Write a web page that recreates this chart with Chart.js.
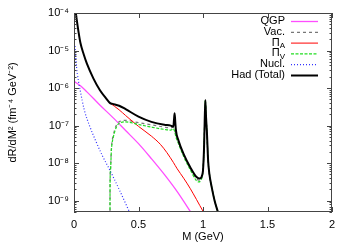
<!DOCTYPE html>
<html>
<head>
<meta charset="utf-8">
<script src="https://cdn.jsdelivr.net/npm/chart.js@4/dist/chart.umd.min.js"></script>
<style>
  body { margin: 0; background: #fff; }
  #wrap { width: 350px; height: 245px; }
</style>
</head>
<body>
<div id="wrap"><canvas id="rate" width="350" height="245"></canvas></div>
<script>
// values, M in GeV, rate in fm^-4 GeV^-2
const qgpM = [0.0, 0.05, 0.1, 0.2, 0.3, 0.4, 0.5, 0.6, 0.7, 0.8, 0.9, 0.95];
const qgpR = [1.51e-6, 1.15e-6, 7.94e-7, 3.55e-7, 1.66e-7, 7.41e-8, 3.31e-8, 1.32e-8, 5.01e-9, 1.74e-9, 5.25e-10, 2.82e-10];

const vacM = [0.279, 0.2795, 0.283, 0.29, 0.305, 0.33, 0.36, 0.4, 0.5, 0.6, 0.7, 0.75, 0.77, 0.78, 0.79, 0.81, 0.85, 0.9, 0.95, 0.97, 0.99, 1.0, 1.008, 1.013, 1.018, 1.024, 1.03, 1.04, 1.05, 1.067, 1.09, 1.12];
const vacR = [2.5e-10, 2.51e-9, 7.08e-9, 2.51e-8, 5.62e-8, 1.05e-7, 1.32e-7, 1.38e-7, 1.20e-7, 1.05e-7, 9.12e-8, 8.71e-8, 9.12e-8, 7.94e-8, 5.62e-8, 3.55e-8, 1.66e-8, 7.41e-9, 3.80e-9, 3.55e-9, 4.17e-9, 6.46e-9, 2.51e-8, 1.26e-7, 4.79e-7, 1.58e-7, 7.08e-8, 1.12e-8, 5.01e-9, 2.34e-9, 1.0e-9, 4.47e-10];

const paM = [0.28, 0.35, 0.4, 0.5, 0.6, 0.67, 0.72, 0.77, 0.8, 0.85, 0.9, 0.95, 1.0, 1.03];
const paR = [3.98e-7, 2.63e-7, 1.86e-7, 9.55e-8, 5.25e-8, 3.16e-8, 1.91e-8, 1.05e-8, 7.08e-9, 3.98e-9, 2.14e-9, 1.07e-9, 5.25e-10, 3.55e-10];

const pvM = [0.279, 0.2795, 0.283, 0.29, 0.305, 0.33, 0.36, 0.4, 0.5, 0.6, 0.7, 0.75, 0.77, 0.78, 0.79, 0.81, 0.85, 0.9, 0.95, 0.965, 0.985, 1.0, 1.008, 1.013, 1.018, 1.024, 1.03, 1.04, 1.05, 1.067, 1.09, 1.12];
const pvR = [2.5e-10, 2.34e-9, 6.46e-9, 2.24e-8, 4.90e-8, 9.33e-8, 1.20e-7, 1.26e-7, 1.07e-7, 9.12e-8, 7.94e-8, 7.59e-8, 8.32e-8, 7.08e-8, 5.01e-8, 3.31e-8, 1.51e-8, 6.76e-9, 3.39e-9, 3.16e-9, 3.55e-9, 6.46e-9, 2.51e-8, 1.26e-7, 4.79e-7, 1.58e-7, 7.08e-8, 1.12e-8, 5.01e-9, 2.34e-9, 1.0e-9, 4.47e-10];

const nuclM = [0.008, 0.014, 0.02, 0.026, 0.035, 0.05, 0.08, 0.12, 0.17, 0.22, 0.28, 0.35, 0.43, 0.45];
const nuclR = [1.32e-5, 6.31e-6, 3.55e-6, 2.4e-6, 1.5e-6, 8.0e-7, 2.6e-7, 1.0e-7, 3.80e-8, 1.58e-8, 6.31e-9, 2.0e-9, 5.01e-10, 3.55e-10];

const hadM = [0.013, 0.02, 0.035, 0.05, 0.075, 0.1, 0.15, 0.2, 0.25, 0.28, 0.3, 0.35, 0.4, 0.5, 0.6, 0.7, 0.75, 0.77, 0.775, 0.78, 0.785, 0.79, 0.81, 0.85, 0.9, 0.95, 0.975, 0.995, 1.0, 1.008, 1.013, 1.018, 1.024, 1.03, 1.04, 1.05, 1.067, 1.09, 1.12];
const hadR = [1.1e-4, 7.08e-5, 3.16e-5, 1.58e-5, 7.94e-6, 4.47e-6, 1.82e-6, 8.91e-7, 5.25e-7, 3.98e-7, 3.80e-7, 3.39e-7, 2.75e-7, 1.74e-7, 1.26e-7, 1.05e-7, 1.0e-7, 9.33e-8, 1.41e-7, 2.14e-7, 1.26e-7, 7.59e-8, 3.98e-8, 1.74e-8, 7.94e-9, 4.27e-9, 3.89e-9, 5.01e-9, 6.46e-9, 2.51e-8, 1.26e-7, 4.79e-7, 1.58e-7, 7.08e-8, 1.12e-8, 5.01e-9, 2.34e-9, 1.0e-9, 4.47e-10];

const xTicks = [0, 0.5, 1, 1.5, 2];
const yTicks = [1e-9, 1e-8, 1e-7, 1e-6, 1e-5, 1e-4];
const yTickLabels = ['10⁻⁹', '10⁻⁸', '10⁻⁷', '10⁻⁶', '10⁻⁵', '10⁻⁴'];

const FONT = 'Liberation Sans, Arial, Helvetica, sans-serif';

function pts(xs, ys) {
  return xs.map((m, i) => ({ x: m, y: ys[i] }));
}

const curves = [
  { label: 'QGP', sub: '', data: pts(qgpM, qgpR), color: '#ff4dff', width: 1.3, dash: [] },
  { label: 'Vac.', sub: '', data: pts(vacM, vacR), color: '#777777', width: 1.2, dash: [3, 3] },
  { label: 'Π', sub: 'A', data: pts(paM, paR), color: '#ff0000', width: 1, dash: [] },
  { label: 'Π', sub: 'V', data: pts(pvM, pvR), color: '#22dd22', width: 1.2, dash: [3, 1.5] },
  { label: 'Nucl.', sub: '', data: pts(nuclM, nuclR), color: '#3333ff', width: 1.2, dash: [1, 2] },
  { label: 'Had (Total)', sub: '', data: pts(hadM, hadR), color: '#000000', width: 2, dash: [] }
];

// frame, inward ticks and the key, gnuplot style
const framePlugin = {
  id: 'frame',
  afterDraw(chart) {
    const { ctx, chartArea: a, scales } = chart;
    const xs = scales.x, ys = scales.y;
    ctx.save();
    ctx.strokeStyle = '#444';
    ctx.lineWidth = 1;
    ctx.strokeRect(a.left + 0.5, a.top + 0.5, a.right - a.left - 1, a.bottom - a.top - 1);
    ctx.beginPath();
    xTicks.forEach(v => {
      const px = Math.round(xs.getPixelForValue(v)) + 0.5;
      ctx.moveTo(px, a.bottom); ctx.lineTo(px, a.bottom - 5);
      ctx.moveTo(px, a.top); ctx.lineTo(px, a.top + 5);
    });
    for (let e = -10; e <= -4; e++) {
      for (let k = 1; k <= 9; k++) {
        const v = k * Math.pow(10, e);
        if (v < ys.min * 0.999 || v > ys.max * 1.001) continue;
        const py = Math.round(ys.getPixelForValue(v)) + 0.5;
        const len = k === 1 ? 5 : 2.5;
        ctx.moveTo(a.left, py); ctx.lineTo(a.left + len, py);
        ctx.moveTo(a.right, py); ctx.lineTo(a.right - len, py);
      }
    }
    ctx.stroke();

    // key
    const textRight = 285, lineL = 291, lineR = 318;
    let y = 21;
    ctx.textBaseline = 'middle';
    ctx.fillStyle = '#000';
    curves.forEach(c => {
      ctx.font = '11px ' + FONT;
      const mainW = ctx.measureText(c.label).width;
      let subW = 0;
      if (c.sub) {
        ctx.font = '8px ' + FONT;
        subW = ctx.measureText(c.sub).width;
      }
      ctx.font = '11px ' + FONT;
      ctx.textAlign = 'left';
      ctx.fillText(c.label, textRight - mainW - subW, y);
      if (c.sub) {
        ctx.font = '8px ' + FONT;
        ctx.fillText(c.sub, textRight - subW, y + 3);
      }
      ctx.beginPath();
      ctx.strokeStyle = c.color;
      ctx.lineWidth = c.width;
      ctx.setLineDash(c.dash);
      ctx.moveTo(lineL, y + 0.5); ctx.lineTo(lineR, y + 0.5);
      ctx.stroke();
      ctx.setLineDash([]);
      y += 10.8;
    });
    ctx.restore();
  }
};

new Chart(document.getElementById('rate'), {
  type: 'line',
  data: {
    // lower order is painted later, so the total ends up on top
    datasets: curves.map((c, i) => ({
      label: c.sub ? c.label + c.sub : c.label,
      data: c.data,
      order: curves.length - 1 - i,
      borderColor: c.color,
      borderWidth: c.width,
      borderDash: c.dash,
      pointRadius: 0,
      fill: false,
      cubicInterpolationMode: 'monotone'
    }))
  },
  options: {
    responsive: false,
    animation: false,
    events: [],
    layout: { padding: { top: 13, right: 18, left: 0, bottom: 0 } },
    plugins: { legend: { display: false }, tooltip: { enabled: false } },
    scales: {
      x: {
        type: 'linear',
        min: 0, max: 2,
        grid: { display: false, drawTicks: false },
        border: { display: false },
        afterBuildTicks: s => { s.ticks = xTicks.map(v => ({ value: v })); },
        afterFit: s => { s.height = 33; },
        ticks: {
          padding: 6,
          color: '#000',
          font: { family: FONT, size: 11 },
          maxRotation: 0,
          callback: v => String(v)
        },
        title: {
          display: true, text: 'M (GeV)', color: '#000',
          font: { family: FONT, size: 11 },
          padding: { top: 0, bottom: 1 }
        }
      },
      y: {
        type: 'logarithmic',
        min: 5e-10, max: 1e-4,
        grid: { display: false, drawTicks: false },
        border: { display: false },
        afterBuildTicks: s => { s.ticks = yTicks.map(v => ({ value: v })); },
        afterFit: s => { s.width = 74; },
        ticks: {
          padding: 5,
          color: '#000',
          font: { family: FONT, size: 11 },
          autoSkip: false,
          callback: (v, i) => yTickLabels[i]
        },
        title: {
          display: true, text: 'dR/dM² (fm⁻⁴ GeV⁻²)', color: '#000',
          font: { family: FONT, size: 11 },
          padding: { top: 6, bottom: 0 }
        }
      }
    }
  },
  plugins: [framePlugin]
});
</script>
</body>
</html>
